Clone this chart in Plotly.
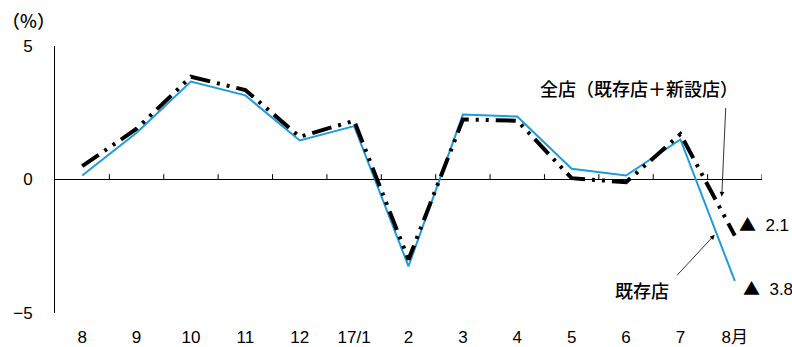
import plotly.graph_objects as go

# Month labels (2016/8 .. 2017/8)
months = ["8", "9", "10", "11", "12", "17/1", "2", "3", "4", "5", "6", "7", "8月"]

# Year-on-year change, %
all_stores = [0.5, 1.9, 3.85, 3.35, 1.6, 2.2, -3.0, 2.25, 2.2, 0.05, -0.1, 1.7, -2.1]
existing_stores = [0.15, 1.75, 3.67, 3.15, 1.46, 2.0, -3.25, 2.43, 2.36, 0.4, 0.15, 1.5, -3.8]

y_ticks = [-5, 0, 5]
y_tick_text = ["−5", "0", "5"]

FONT = "Liberation Sans, Arial, Noto Sans CJK JP, sans-serif"
JP_FONT = "Noto Sans CJK JP, sans-serif"
BLUE = "#1E9BDA"

xs = list(range(len(months)))


def minus_label(v):
    # Japanese convention: ▲ marks a negative value
    return (f'<span style="font-family:Noto Sans CJK JP">▲</span>'
            f'&nbsp; {abs(v):.1f}')


fig = go.Figure()

fig.add_trace(go.Scatter(
    x=xs, y=existing_stores, mode="lines",
    line=dict(color=BLUE, width=2),
    hoverinfo="skip", showlegend=False,
))
fig.add_trace(go.Scatter(
    x=xs, y=all_stores, mode="lines",
    line=dict(color="black", width=4, dash="20px,7px,3px,7px,3px,7px"),
    hoverinfo="skip", showlegend=False,
))

# small upward ticks on the zero line between months
for i in range(len(months)):
    fig.add_shape(type="line", x0=i + 0.5, x1=i + 0.5, y0=0, y1=0.2,
                  xref="x", yref="y", line=dict(color="black", width=1))

# value labels for the latest month
last = len(months) - 1
fig.add_annotation(x=last, y=all_stores[-1], xref="x", yref="y",
                   text=minus_label(all_stores[-1]), showarrow=False,
                   xanchor="left", yanchor="middle", xshift=2, yshift=12,
                   font=dict(family=FONT, size=17, color="black"))
fig.add_annotation(x=last, y=existing_stores[-1], xref="x", yref="y",
                   text=minus_label(existing_stores[-1]), showarrow=False,
                   xanchor="left", yanchor="middle", xshift=6, yshift=-7,
                   font=dict(family=FONT, size=17, color="black"))

# series labels with pointer arrows
fig.add_annotation(x=0.826, y=0.843, xref="paper", yref="paper",
                   text="全店（既存店＋新設店）", showarrow=False,
                   xanchor="center", yanchor="middle",
                   font=dict(family=JP_FONT, size=18, color="black", weight=500))
fig.add_annotation(x=11.76, y=-0.64, xref="x", yref="y", text="",
                   showarrow=True, ax=4, ay=-90, axref="pixel", ayref="pixel",
                   arrowhead=2, arrowsize=1.2, arrowwidth=0.8, arrowcolor="black")

fig.add_annotation(x=0.83, y=0.086, xref="paper", yref="paper",
                   text="既存店", showarrow=False,
                   xanchor="center", yanchor="middle",
                   font=dict(family=JP_FONT, size=18, color="black", weight=500))
fig.add_annotation(x=11.63, y=-2.07, xref="x", yref="y", text="",
                   showarrow=True, ax=-39, ay=42, axref="pixel", ayref="pixel",
                   arrowhead=2, arrowsize=1.2, arrowwidth=0.8, arrowcolor="black")

# unit label
fig.add_annotation(x=-0.038, y=1.097, xref="paper", yref="paper",
                   text="（%）", showarrow=False,
                   xanchor="center", yanchor="middle",
                   font=dict(family=JP_FONT, size=18, color="black", weight=500))

fig.update_layout(
    width=792, height=347,
    margin=dict(l=55, r=30, t=46, b=34),
    paper_bgcolor="white", plot_bgcolor="white",
    showlegend=False,
    xaxis=dict(
        type="linear", range=[-0.5, len(months) - 0.5], automargin=False,
        tickmode="array", tickvals=xs, ticktext=months,
        showgrid=False, zeroline=False, showline=False, ticks="",
        ticklabelstandoff=12,
        tickfont=dict(family=FONT, size=17, color="black"),
    ),
    yaxis=dict(
        range=[-5, 5], automargin=False,
        tickmode="array", tickvals=y_ticks, ticktext=y_tick_text,
        showgrid=False, zeroline=True, zerolinecolor="black", zerolinewidth=1,
        showline=True, linecolor="black", linewidth=1,
        ticks="inside", ticklen=4, tickcolor="black",
        ticklabelstandoff=18,
        tickfont=dict(family=FONT, size=17, color="black"),
    ),
)

fig.write_html("out.html")
